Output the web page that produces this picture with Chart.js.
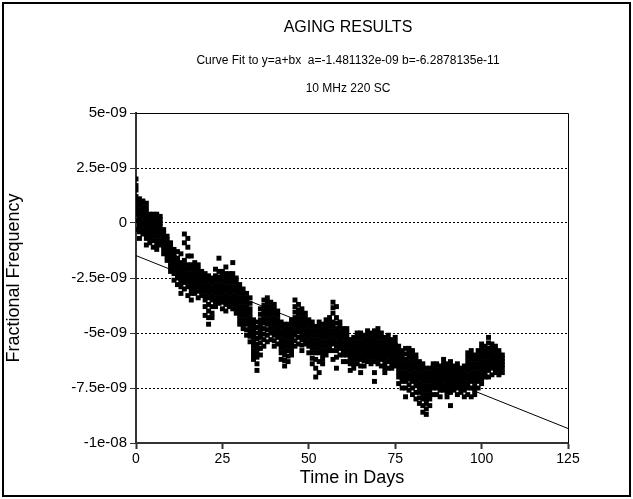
<!DOCTYPE html>
<html>
<head>
<meta charset="utf-8">
<script src="https://cdn.jsdelivr.net/npm/chart.js@4.4.1/dist/chart.umd.min.js"></script>
<style>
  html, body { margin: 0; padding: 0; background: #fff; }
</style>
</head>
<body>
<canvas id="myCanvas" width="633" height="499"></canvas>
<script>
'use strict';

// readings in units of 1e-9, one list per day (day = index)
let scale = 1e-9;
let days = [];
for (let d = 0; d <= 106; d++) days.push(d);

let freqByDay = [
  [2.0,1.7,1.5,1.2,1.0,0.8,0.6,0.4,0.1,-0.3],
  [1.1,0.9,0.8,0.6,0.4,0.2,0.0,-0.2,-0.4,-0.7],
  [1.0,0.9,0.7,0.5,0.3,0.1,-0.1,-0.3,-0.5],
  [0.9,0.7,0.5,0.3,0.1,-0.1,-0.3,-0.5,-0.7,-1.0],
  [0.4,0.25,0.1,-0.05,-0.2,-0.35,-0.5,-0.7,-0.9],
  [0.4,0.25,0.1,-0.1,-0.25,-0.4,-0.6,-0.8,-1.1],
  [0.4,0.2,0.05,-0.1,-0.3,-0.45,-0.6,-0.8,-1.0,-1.2],
  [0.3,0.15,0.0,-0.15,-0.3,-0.45,-0.6,-0.8,-1.0],
  [-0.3,-0.45,-0.6,-0.75,-0.9,-1.05,-1.2,-1.4],
  [-0.6,-0.75,-0.9,-1.05,-1.2,-1.35,-1.5,-1.7],
  [-0.9,-1.1,-1.25,-1.4,-1.55,-1.7,-1.85,-2.0,-2.2],
  [-1.2,-1.4,-1.55,-1.7,-1.85,-2.0,-2.15,-2.3,-2.6],
  [-1.3,-1.6,-1.75,-1.9,-2.05,-2.2,-2.35,-2.5,-2.8],
  [-1.4,-1.8,-1.95,-2.1,-2.25,-2.4,-2.55,-2.7,-2.9,-3.2],
  [-0.5,-0.9,-1.7,-1.9,-2.05,-2.2,-2.35,-2.5,-2.7,-3.0],
  [-0.7,-1.1,-1.5,-1.9,-2.1,-2.3,-2.5,-2.7,-2.9,-3.3],
  [-1.5,-1.9,-2.1,-2.3,-2.5,-2.65,-2.8,-3.0,-3.2,-3.5],
  [-1.8,-2.0,-2.2,-2.35,-2.5,-2.65,-2.8,-3.0,-3.2],
  [-1.9,-2.1,-2.3,-2.45,-2.6,-2.75,-2.9,-3.1,-3.4],
  [-2.2,-2.35,-2.5,-2.65,-2.8,-2.95,-3.1,-3.3],
  [-2.3,-2.5,-2.7,-2.9,-3.1,-3.3,-3.5,-3.8,-4.2],
  [-2.4,-2.6,-2.8,-3.0,-3.2,-3.4,-3.7,-4.0,-4.3,-4.6],
  [-2.5,-2.7,-2.9,-3.1,-3.3,-3.5,-3.8,-4.1,-4.3],
  [-2.1,-2.4,-2.6,-2.8,-3.0,-3.2,-3.4,-3.6,-3.8],
  [-1.6,-2.2,-2.45,-2.65,-2.85,-3.05,-3.25,-3.45,-3.65],
  [-2.2,-2.4,-2.6,-2.8,-3.0,-3.2,-3.4,-3.6,-3.9],
  [-2.0,-2.3,-2.5,-2.7,-2.9,-3.1,-3.3,-3.5,-3.7,-4.0],
  [-2.3,-2.5,-2.7,-2.9,-3.05,-3.2,-3.4,-3.6,-3.8],
  [-1.8,-2.3,-2.5,-2.7,-2.9,-3.1,-3.3,-3.5,-3.7,-3.9],
  [-2.5,-2.7,-2.9,-3.1,-3.3,-3.5,-3.7,-3.9,-4.1],
  [-2.8,-3.0,-3.2,-3.4,-3.6,-3.8,-4.0,-4.2,-4.4,-4.6],
  [-3.0,-3.2,-3.4,-3.6,-3.8,-4.0,-4.2,-4.4,-4.6,-4.8],
  [-3.2,-3.4,-3.6,-3.8,-4.0,-4.2,-4.4,-4.6,-4.85,-5.1],
  [-3.4,-3.65,-3.9,-4.1,-4.3,-4.5,-4.7,-4.9,-5.15,-5.4],
  [-4.4,-4.6,-4.8,-5.0,-5.2,-5.4,-5.6,-5.8,-6.0,-6.2],
  [-4.5,-4.75,-5.0,-5.25,-5.5,-5.7,-5.9,-6.1,-6.4,-6.7],
  [-3.9,-4.15,-4.4,-4.6,-4.8,-5.0,-5.2,-5.45,-5.7,-6.0],
  [-3.5,-3.75,-3.95,-4.15,-4.35,-4.55,-4.8,-5.05,-5.3,-5.6],
  [-3.4,-3.6,-3.8,-4.0,-4.2,-4.4,-4.6,-4.85,-5.1,-5.4],
  [-3.6,-3.8,-4.0,-4.2,-4.4,-4.6,-4.8,-5.0,-5.3],
  [-3.7,-3.9,-4.1,-4.3,-4.5,-4.7,-4.9,-5.1,-5.35,-5.6],
  [-4.0,-4.2,-4.4,-4.6,-4.8,-5.0,-5.2,-5.5],
  [-4.5,-4.7,-4.9,-5.1,-5.3,-5.5,-5.7,-5.9,-6.2],
  [-4.6,-4.8,-5.0,-5.2,-5.4,-5.6,-5.8,-6.0,-6.25,-6.5],
  [-4.6,-4.8,-5.0,-5.2,-5.4,-5.6,-5.8,-6.05,-6.3],
  [-4.4,-4.6,-4.8,-5.0,-5.2,-5.4,-5.6,-5.8,-6.0],
  [-3.5,-3.8,-4.05,-4.3,-4.5,-4.7,-4.9,-5.1,-5.35,-5.6],
  [-3.7,-3.95,-4.15,-4.35,-4.55,-4.75,-4.95,-5.2,-5.5],
  [-3.9,-4.1,-4.3,-4.5,-4.7,-4.9,-5.1,-5.3,-5.55,-5.8],
  [-4.1,-4.3,-4.5,-4.7,-4.9,-5.1,-5.3,-5.5],
  [-4.4,-4.6,-4.8,-5.0,-5.2,-5.4,-5.6,-5.9],
  [-4.5,-4.7,-4.9,-5.1,-5.3,-5.5,-5.7,-5.9,-6.15,-6.4],
  [-4.7,-4.9,-5.1,-5.3,-5.5,-5.7,-5.9,-6.2,-6.6,-7.0],
  [-4.5,-4.7,-4.9,-5.1,-5.3,-5.5,-5.7,-5.9,-6.3,-6.8],
  [-4.6,-4.8,-5.0,-5.2,-5.4,-5.6,-5.8,-6.0,-6.2,-6.4],
  [-4.4,-4.6,-4.8,-5.0,-5.2,-5.4,-5.6,-5.8,-6.0],
  [-4.3,-4.5,-4.7,-4.9,-5.1,-5.3,-5.5,-5.65,-5.8],
  [-3.6,-3.85,-4.1,-4.5,-4.7,-4.9,-5.1,-5.3,-5.5,-5.8,-6.2],
  [-3.8,-4.3,-4.55,-4.8,-5.0,-5.2,-5.4,-5.6,-5.8,-6.1,-6.6],
  [-4.5,-4.7,-4.9,-5.1,-5.3,-5.5,-5.7,-6.0],
  [-4.8,-5.0,-5.2,-5.4,-5.6,-5.8,-6.0,-6.3],
  [-4.8,-5.0,-5.2,-5.4,-5.6,-5.8,-6.0,-6.3],
  [-5.3,-5.45,-5.6,-5.75,-5.9,-6.05,-6.2,-6.4,-6.7],
  [-5.2,-5.4,-5.55,-5.7,-5.85,-6.0,-6.2,-6.4,-6.6],
  [-5.0,-5.2,-5.4,-5.55,-5.7,-5.85,-6.0,-6.2,-6.4],
  [-5.0,-5.2,-5.4,-5.6,-5.8,-6.0,-6.2,-6.5,-6.8],
  [-5.1,-5.3,-5.45,-5.6,-5.75,-5.9,-6.05,-6.25,-6.5],
  [-4.9,-5.1,-5.3,-5.45,-5.6,-5.75,-5.9,-6.1,-6.3],
  [-5.0,-5.2,-5.35,-5.5,-5.65,-5.8,-6.0,-6.2,-6.4],
  [-4.9,-5.1,-5.3,-5.5,-5.7,-5.9,-6.1,-6.3,-6.8,-7.2],
  [-4.8,-5.0,-5.2,-5.4,-5.6,-5.8,-6.0,-6.2,-6.4],
  [-5.0,-5.2,-5.4,-5.55,-5.7,-5.85,-6.0,-6.2,-6.5],
  [-5.2,-5.4,-5.6,-5.75,-5.9,-6.05,-6.2,-6.4,-6.6,-6.8],
  [-5.1,-5.3,-5.5,-5.65,-5.8,-5.95,-6.1,-6.3,-6.6],
  [-5.3,-5.45,-5.6,-5.75,-5.9,-6.05,-6.2,-6.4,-6.6],
  [-5.2,-5.4,-5.55,-5.7,-5.85,-6.0,-6.15,-6.3,-6.5],
  [-5.6,-5.8,-6.0,-6.2,-6.4,-6.6,-6.8,-7.0,-7.3],
  [-5.8,-6.0,-6.2,-6.4,-6.6,-6.8,-7.0,-7.2,-7.5],
  [-5.7,-5.95,-6.2,-6.4,-6.6,-6.8,-7.0,-7.2,-7.5,-7.9],
  [-5.7,-5.9,-6.1,-6.3,-6.5,-6.7,-6.9,-7.1,-7.35,-7.6],
  [-5.8,-6.0,-6.2,-6.4,-6.6,-6.8,-7.0,-7.2,-7.5,-7.8],
  [-6.0,-6.2,-6.4,-6.6,-6.8,-7.0,-7.2,-7.4,-7.7,-8.0],
  [-6.3,-6.5,-6.7,-6.9,-7.1,-7.3,-7.5,-7.7,-7.95,-8.2],
  [-6.4,-6.6,-6.8,-7.0,-7.2,-7.4,-7.6,-7.8,-8.0,-8.3,-8.6],
  [-6.6,-6.8,-7.0,-7.2,-7.4,-7.6,-7.8,-8.0,-8.2,-8.45,-8.7],
  [-6.6,-6.8,-7.0,-7.2,-7.4,-7.6,-7.8,-8.0,-8.3],
  [-6.4,-6.55,-6.7,-6.85,-7.0,-7.15,-7.3,-7.5,-7.8],
  [-6.4,-6.55,-6.7,-6.85,-7.0,-7.15,-7.3,-7.5,-7.8],
  [-6.5,-6.65,-6.8,-6.95,-7.1,-7.25,-7.4,-7.6,-7.9],
  [-6.2,-6.4,-6.6,-6.75,-6.9,-7.05,-7.2,-7.4,-7.6],
  [-6.4,-6.55,-6.7,-6.85,-7.0,-7.15,-7.3,-7.5,-7.7,-7.9],
  [-6.3,-6.5,-6.7,-6.9,-7.05,-7.2,-7.35,-7.5,-7.7,-8.3],
  [-6.5,-6.65,-6.8,-6.95,-7.1,-7.25,-7.4,-7.6],
  [-6.4,-6.55,-6.7,-6.85,-7.0,-7.15,-7.3,-7.5,-7.8],
  [-6.6,-6.75,-6.9,-7.05,-7.2,-7.35,-7.5,-7.7],
  [-6.5,-6.65,-6.8,-6.95,-7.1,-7.25,-7.4,-7.6,-7.9],
  [-5.9,-6.1,-6.3,-6.5,-6.7,-6.9,-7.1,-7.3,-7.5,-7.8],
  [-5.8,-6.0,-6.2,-6.4,-6.6,-6.8,-7.0,-7.2,-7.5,-7.9],
  [-6.0,-6.2,-6.4,-6.6,-6.8,-7.0,-7.2,-7.4,-7.6,-7.8],
  [-5.8,-6.0,-6.2,-6.4,-6.6,-6.8,-7.0,-7.2,-7.5],
  [-5.5,-5.7,-5.9,-6.1,-6.3,-6.5,-6.7,-6.9,-7.1,-7.3],
  [-5.6,-5.8,-6.0,-6.2,-6.35,-6.5,-6.65,-6.8,-7.0],
  [-5.2,-5.45,-5.7,-5.9,-6.1,-6.3,-6.5,-6.7,-7.0],
  [-5.5,-5.7,-5.85,-6.0,-6.15,-6.3,-6.45,-6.6,-6.9],
  [-5.6,-5.75,-5.9,-6.05,-6.2,-6.35,-6.5,-6.65,-6.8],
  [-5.8,-5.95,-6.1,-6.25,-6.4,-6.55,-6.7,-6.9],
  [-6.0,-6.15,-6.3,-6.45,-6.6,-6.8]
];

// straight line fit y = a + b x, drawn between its end points
let fitDays = [0, 125];
let fitFreq = [-1.481132e-9, -9.341e-9];

let yTickLabels = ['-1e-08', '-7.5e-09', '-5e-09', '-2.5e-09', '0', '2.5e-09', '5e-09'];
let titleLines = ['AGING RESULTS', 'Curve Fit to y=a+bx  a=-1.481132e-09 b=-6.2878135e-11', '10 MHz 220 SC'];

let points = [];
for (let i = 0; i < days.length; i++) {
  for (let v of freqByDay[i]) {
    points.push({x: days[i], y: v * scale});
  }
}
let fitLine = fitDays.map(function(d, i) { return {x: d, y: fitFreq[i]}; });

let font = 'Liberation Sans, Arial, Helvetica, sans-serif';

let framePlugin = {
  id: 'frame',
  afterDraw: function(chart) {
    let ctx = chart.ctx;
    let a = chart.chartArea;
    ctx.save();
    // plot box top and right
    ctx.strokeStyle = '#000';
    ctx.lineWidth = 1;
    ctx.beginPath();
    ctx.moveTo(a.left, a.top + 0.5);
    ctx.lineTo(a.right + 0.5, a.top + 0.5);
    ctx.lineTo(a.right + 0.5, a.bottom);
    ctx.stroke();
    // outer frame
    ctx.lineWidth = 2;
    ctx.strokeRect(3, 3, 627, 493);
    // titles
    ctx.fillStyle = '#000';
    ctx.textAlign = 'center';
    ctx.textBaseline = 'middle';
    ctx.font = '16px ' + font;
    ctx.fillText(titleLines[0], 348, 28);
    ctx.font = '12px ' + font;
    ctx.fillText(titleLines[1], 348, 61);
    ctx.fillText(titleLines[2], 348, 89);
    ctx.restore();
  }
};

let myChart = document.getElementById('myCanvas').getContext('2d');
let agingChart = new Chart(myChart, {
  type: 'scatter',
  data: {
    datasets: [{
      label: 'Data',
      data: points,
      pointStyle: 'rect',
      pointRadius: 3.5,
      pointHoverRadius: 3.5,
      borderWidth: 0,
      backgroundColor: '#000',
      order: 2
    }, {
      label: 'Fit',
      type: 'line',
      data: fitLine,
      borderColor: '#000',
      borderWidth: 1,
      pointRadius: 0,
      fill: false,
      order: 1
    }]
  },
  options: {
    responsive: false,
    animation: false,
    devicePixelRatio: 1,
    layout: { padding: { top: 113, right: 65, bottom: 0, left: 0 } },
    plugins: {
      legend: { display: false },
      tooltip: { enabled: false }
    },
    scales: {
      x: {
        type: 'linear',
        min: 0,
        max: 125,
        afterFit: function(s) { s.height = 56; },
        ticks: {
          stepSize: 25,
          color: '#000',
          padding: 2,
          font: { family: font, size: 14 }
        },
        grid: {
          drawOnChartArea: false,
          drawTicks: true,
          tickLength: 6,
          tickColor: '#333',
          tickWidth: 2
        },
        border: { display: true, color: '#333', width: 2 },
        title: {
          display: true,
          text: 'Time in Days',
          color: '#000',
          font: { family: font, size: 18 },
          padding: { top: 0, bottom: 10 }
        }
      },
      y: {
        min: -1e-8,
        max: 5e-9,
        afterFit: function(s) { s.width = 136; },
        ticks: {
          stepSize: 2.5e-9,
          color: '#000',
          padding: 3,
          font: { family: font, size: 15 },
          callback: function(value, index) { return yTickLabels[index]; }
        },
        grid: {
          color: function(c) {
            if (c.index === 0 || c.index === yTickLabels.length - 1) return 'rgba(0,0,0,0)';
            return '#000';
          },
          lineWidth: 1,
          drawTicks: true,
          tickLength: 6,
          tickColor: '#333',
          tickWidth: 1
        },
        border: { display: true, color: '#333', width: 2, dash: [2, 2] },
        title: {
          display: true,
          text: 'Fractional Frequency',
          color: '#000',
          font: { family: font, size: 18 },
          padding: { top: 3, bottom: 0 }
        }
      }
    }
  },
  plugins: [framePlugin]
});
</script>
</body>
</html>
